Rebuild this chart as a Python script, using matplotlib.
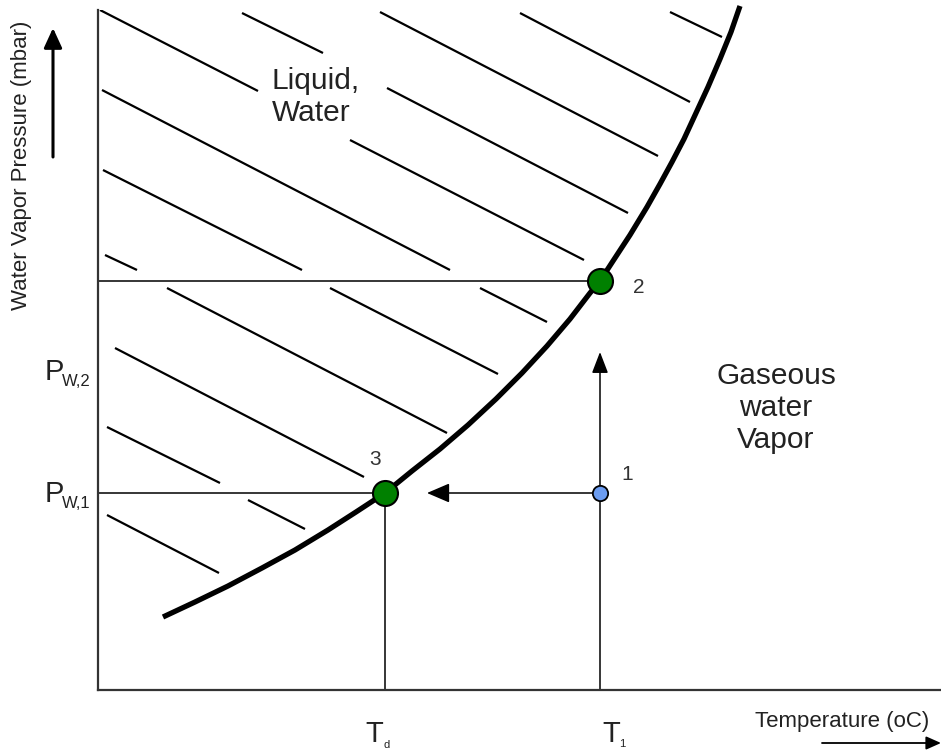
import numpy as np
import matplotlib
matplotlib.use("Agg")
import matplotlib.pyplot as plt

plt.rcParams['font.family'] = ['Liberation Sans', 'DejaVu Sans']

# saturation curve (temperature, pressure)
curve_t = [65, 97, 130, 164, 197, 230, 258, 287, 314, 342, 370, 398, 424, 449,
           472, 492, 502, 515, 532, 549, 562, 574, 586, 598, 610, 622, 633, 642]
curve_p = [73, 88, 104, 122, 140, 160, 178, 197, 219, 241, 265, 291, 317, 344,
           371, 397, 409, 429, 455, 483, 506, 528, 551, 577, 603, 631, 658, 684]

# state points
T_d = 287
T_1 = 502
P_w1 = 197
P_w2 = 409
point_t = [T_1, T_1, T_d]
point_p = [P_w1, P_w2, P_w1]
point_names = ['1', '2', '3']

# hatch strokes in the liquid area: (t0, p0, t1, p1)
hatch = [
    (2, 680, 160, 599),
    (144, 677, 225, 637),
    (282, 678, 560, 534),
    (4, 600, 352, 420),
    (5, 520, 204, 420),
    (7, 435, 39, 420),
    (289, 602, 530, 477),
    (252, 550, 486, 430),
    (422, 677, 592, 588),
    (572, 678, 624, 653),
    (69, 402, 349, 257),
    (232, 402, 400, 316),
    (382, 402, 449, 368),
    (17, 342, 266, 213),
    (9, 263, 122, 207),
    (150, 190, 207, 161),
    (9, 175, 121, 117),
]

txt = '#222222'

fig = plt.figure(figsize=(9.41, 7.53), dpi=100)
ax = fig.add_axes([98 / 941, 63 / 753, 843 / 941, 680 / 753])
ax.set_xlim(0, 843)
ax.set_ylim(0, 680)
for s in ['top', 'right']:
    ax.spines[s].set_visible(False)
for s in ['left', 'bottom']:
    ax.spines[s].set_linewidth(1.6)
    ax.spines[s].set_color('#333333')
ax.set_xticks([])
ax.set_yticks([])

for t0, p0, t1, p1 in hatch:
    ax.plot([t0, t1], [p0, p1], color='black', lw=1.6, solid_capstyle='butt')

# guide lines
ax.plot([0, T_1], [P_w2, P_w2], color='black', lw=1.1)
ax.plot([0, T_d], [P_w1, P_w1], color='black', lw=1.1)
ax.plot([T_d, T_d], [0, P_w1], color='black', lw=1.1)
ax.plot([T_1, T_1], [0, P_w1], color='black', lw=1.1)

# cooling arrow 1 -> 3 and heating arrow
ax.annotate('', xy=(329, P_w1), xytext=(T_1, P_w1),
            arrowprops=dict(arrowstyle='-|>,head_length=1.4,head_width=0.6',
                            mutation_scale=10, color='black', lw=1.1,
                            shrinkA=0, shrinkB=0))
ax.annotate('', xy=(T_1, 338), xytext=(T_1, P_w1),
            arrowprops=dict(arrowstyle='-|>,head_length=1.3,head_width=0.5',
                            mutation_scale=10, color='black', lw=1.1,
                            shrinkA=0, shrinkB=0))

ax.plot(curve_t, curve_p, color='black', lw=3.8, solid_joinstyle='round',
        solid_capstyle='butt', clip_on=False, zorder=4)

ax.plot(point_t[1:], point_p[1:], 'o', ms=18, mfc='#008000', mec='black',
        mew=1.5, zorder=5)
ax.plot(point_t[:1], point_p[:1], 'o', ms=11, mfc='#6b9cf0', mec='black',
        mew=1.3, zorder=5)

ax.text(529, 210, point_names[0], fontsize=15, color='#333333', ha='center', va='baseline')
ax.text(541, 397, point_names[1], fontsize=15, color='#333333', ha='center', va='baseline')
ax.text(277, 225, point_names[2], fontsize=15, color='#333333', ha='center', va='baseline')

ax.text(174, 593, 'Liquid,\nWater', fontsize=21.5, color=txt, ha='left', va='center',
        linespacing=1.2)
ax.text(678, 282, 'Gaseous\nwater\nVapor', fontsize=21.5, color=txt, ha='center',
        va='center', linespacing=1.2)

# axis labels drawn outside the frame
ax.text(-53, 310, 'P', fontsize=21, color=txt, ha='left', va='baseline', clip_on=False)
ax.text(-36, 304, 'W,2', fontsize=12, color=txt, ha='left', va='baseline', clip_on=False)
ax.text(-53, 188, 'P', fontsize=21, color=txt, ha='left', va='baseline', clip_on=False)
ax.text(-36, 182, 'W,1', fontsize=12, color=txt, ha='left', va='baseline', clip_on=False)

ax.text(267, -52, 'T', fontsize=21, color=txt, ha='left', va='baseline', clip_on=False)
ax.text(286, -58, 'd', fontsize=8, color=txt, ha='left', va='baseline', clip_on=False)
ax.text(504, -52, 'T', fontsize=21, color=txt, ha='left', va='baseline', clip_on=False)
ax.text(521, -57, '1', fontsize=8, color=txt, ha='left', va='baseline', clip_on=False)

ax.text(657, -37, 'Temperature (oC)', fontsize=16, color=txt, ha='left', va='baseline',
        clip_on=False)
ax.annotate('', xy=(843, -53), xytext=(724, -53), annotation_clip=False,
            arrowprops=dict(arrowstyle='-|>,head_length=0.9,head_width=0.4',
                            mutation_scale=10, color='black', lw=1.3,
                            shrinkA=0, shrinkB=0))

ax.text(-76, 525, 'Water Vapor Pressure (mbar)', fontsize=16, color=txt, rotation=90,
        ha='center', va='center', clip_on=False)
ax.annotate('', xy=(-45, 662), xytext=(-45, 533), annotation_clip=False,
            arrowprops=dict(arrowstyle='-|>,head_length=1.2,head_width=0.55',
                            mutation_scale=10, color='black', lw=2.2,
                            shrinkA=0, shrinkB=0))

fig.savefig('out.png', dpi=100)
